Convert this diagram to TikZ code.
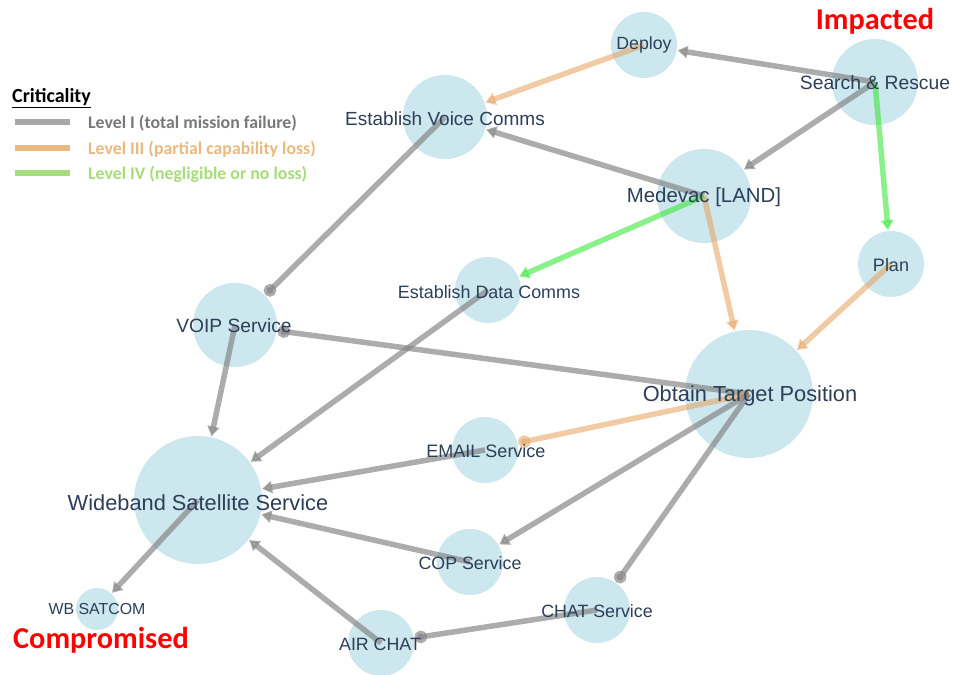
\documentclass[tikz,border=0pt]{standalone}
\usepackage{fontspec}
\setmainfont{Liberation Sans}
\newfontfamily\calib{Carlito}
\usetikzlibrary{arrows.meta}

\definecolor{nodefill}{RGB}{205,231,238}
\definecolor{nodetext}{RGB}{44,62,88}
\definecolor{edgegray}{RGB}{128,128,128}
\definecolor{edgeorange}{RGB}{230,160,90}
\definecolor{edgegreen}{RGB}{60,230,60}
\definecolor{keygray}{RGB}{169,167,166}
\definecolor{keygraytext}{RGB}{120,120,120}
\definecolor{keyorange}{RGB}{233,185,127}
\definecolor{keygreen}{RGB}{166,220,122}
\definecolor{alertred}{RGB}{255,0,0}

\begin{document}
\begin{tikzpicture}[x=1pt,y=-1pt,
  hub/.style={circle, fill=nodefill, draw=none, inner sep=0pt, outer sep=1pt, minimum size=#1},
  lbl/.style={text=nodetext, inner sep=0pt, font=\fontsize{#1}{#1}\selectfont},
  link/.style={line width=5.5pt, opacity=#1},
  lvlone/.style={link=0.65, draw=edgegray},
  lvlthree/.style={link=0.55, draw=edgeorange},
  lvlfour/.style={link=0.6, draw=edgegreen},
  tri/.style={-{Triangle[length=10pt,width=12pt]}},
  dot/.style={-{Circle[length=12.5pt]}},
  keyline/.style={line width=6pt},
  keytext/.style={anchor=west, inner sep=0pt, font=\calib\bfseries\fontsize{17.8}{20}\selectfont},
  alert/.style={text=alertred, inner sep=0pt, font=\calib\bfseries\fontsize{30.3}{34}\selectfont}
]
\useasboundingbox (0,0) rectangle (954,675);

% capability / service circles
\node[hub=66pt] (dep)   at (644,45)  {};
\node[hub=86pt] (sar)   at (875,82)  {};
\node[hub=84pt] (evc)   at (445,117) {};
\node[hub=94pt] (med)   at (704,196) {};
\node[hub=66pt] (plan)  at (891,264) {};
\node[hub=66pt] (edc)   at (488,290) {};
\node[hub=84pt] (voip)  at (235,325) {};
\node[hub=128pt] (otp)  at (749,394) {};
\node[hub=66pt] (email) at (485,450) {};
\node[hub=128pt] (wss)  at (198,500) {};
\node[hub=66pt] (cop)   at (470,562) {};
\node[hub=42pt] (wbs)   at (97,609)  {};
\node[hub=66pt] (air)   at (381,643) {};
\node[hub=66pt] (chat)  at (597,610) {};

% dependencies
\draw[lvlone, tri]    (sar.center)   -- (dep);
\draw[lvlthree, tri]  (dep.center)   -- (evc);
\draw[lvlone, tri]    (med.center)   -- (evc);
\draw[lvlone, tri]    (sar.center)   -- (med);
\draw[lvlfour, tri]   (sar.center)   -- (plan);
\draw[lvlfour, tri]   (med.center)   -- (edc);
\draw[lvlthree, tri]  (med.center)   -- (otp);
\draw[lvlthree, tri]  (plan.center)  -- (otp);
\draw[lvlone, dot]    (evc.center)   -- (voip);
\draw[lvlone, dot]    (otp.center)   -- (voip);
\draw[lvlone, tri]    (voip.center)  -- (wss);
\draw[lvlone, tri]    (edc.center)   -- (wss);
\draw[lvlthree, dot]  (otp.center)   -- (email);
\draw[lvlone, tri]    (email.center) -- (wss);
\draw[lvlone, tri]    (otp.center)   -- (cop);
\draw[lvlone, tri]    (cop.center)   -- (wss);
\draw[lvlone, tri]    (air.center)   -- (wss);
\draw[lvlone, dot]    (chat.center)  -- (air);
\draw[lvlone, dot]    (otp.center)   -- (chat);
\draw[lvlone, tri]    (wss.center)   -- (wbs);

% labels
\node[lbl=17.7] (dep-t)   at (644,45)  {Deploy};
\node[lbl=19.3] (sar-t)   at (875,83)  {Search \& Rescue};
\node[lbl=19]   (evc-t)   at (445,119) {Establish Voice Comms};
\node[lbl=20.4] (med-t)   at (704,197) {Medevac [LAND]};
\node[lbl=18]   (plan-t)  at (891,265) {Plan};
\node[lbl=17.9] (edc-t)   at (489,292) {Establish Data Comms};
\node[lbl=19.2] (voip-t)  at (234,326) {VOIP Service};
\node[lbl=21.8] (otp-t)   at (750,396) {Obtain Target Position};
\node[lbl=18]   (email-t) at (486,451) {EMAIL Service};
\node[lbl=21.8] (wss-t)   at (198,503) {Wideband Satellite Service};
\node[lbl=17.8] (cop-t)   at (470,563) {COP Service};
\node[lbl=15.9] (wbs-t)   at (97,609)  {WB SATCOM};
\node[lbl=17.8] (air-t)   at (380,644) {AIR CHAT};
\node[lbl=17.8] (chat-t)  at (597,611) {CHAT Service};

% status callouts
\node[alert] (impacted)    at (875,21)  {Impacted};
\node[alert] (compromised) at (101,640) {Compromised};

% legend
\node[anchor=west, inner sep=0pt, font=\calib\bfseries\fontsize{20}{23}\selectfont] (key-title) at (12,98) {\underline{Criticality}};
\coordinate (k1a) at (15,122); \coordinate (k1b) at (70,122);
\coordinate (k3a) at (15,148); \coordinate (k3b) at (70,148);
\coordinate (k4a) at (15,173); \coordinate (k4b) at (70,173);
\draw[keyline, keygray]   (k1a) -- (k1b);
\draw[keyline, keyorange] (k3a) -- (k3b);
\draw[keyline, keygreen]  (k4a) -- (k4b);
\node[keytext, text=keygraytext] (key-1) at (88,123) {Level I (total mission failure)};
\node[keytext, text=keyorange]   (key-3) at (88,149) {Level III (partial capability loss)};
\node[keytext, text=keygreen]    (key-4) at (88,174) {Level IV (negligible or no loss)};
\end{tikzpicture}
\end{document}
